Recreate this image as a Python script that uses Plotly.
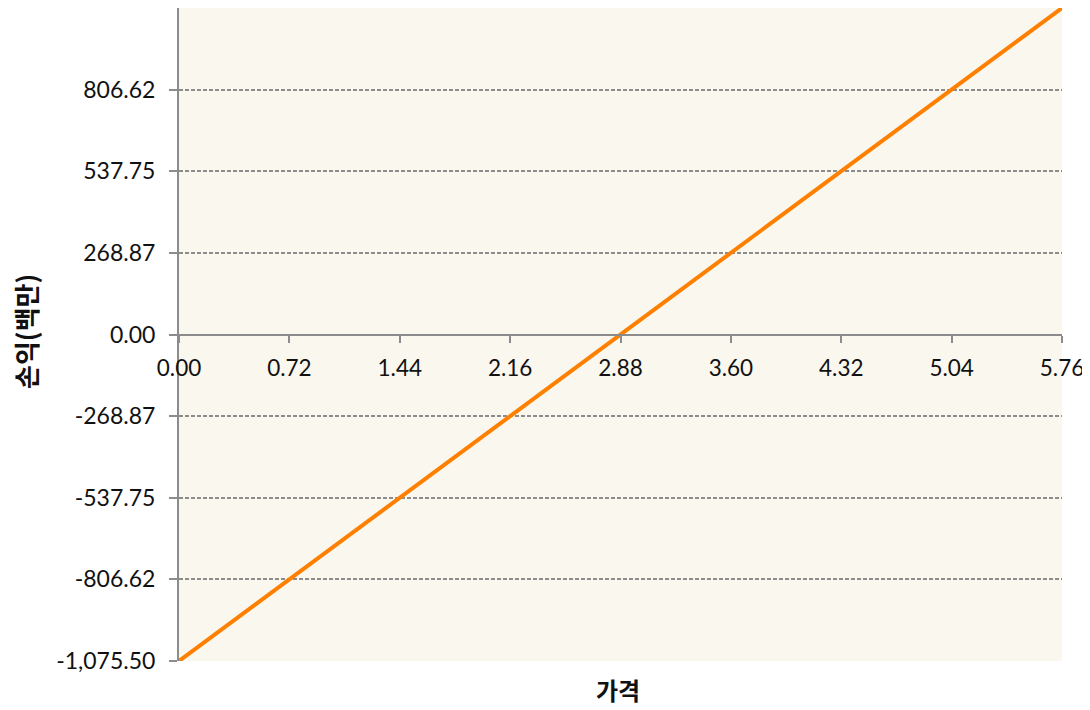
import plotly.graph_objects as go

# Data
price = [0.00, 0.72, 1.44, 2.16, 2.88, 3.60, 4.32, 5.04, 5.76]
profit = [-1075.50, -806.62, -537.75, -268.87, 0.00, 268.87, 537.75, 806.62, 1075.50]

x_tick_vals = [0.00, 0.72, 1.44, 2.16, 2.88, 3.60, 4.32, 5.04, 5.76]
x_tick_text = ["0.00", "0.72", "1.44", "2.16", "2.88", "3.60", "4.32", "5.04", "5.76"]
y_tick_vals = [-1075.50, -806.62, -537.75, -268.87, 0.00, 268.87, 537.75, 806.62]
y_tick_text = ["-1,075.50", "-806.62", "-537.75", "-268.87", "0.00", "268.87", "537.75", "806.62"]

x_title = "가격"
y_title = "손익(백만)"

num_font = dict(family="Lato, 'Open Sans', sans-serif", size=23, color="#111111")
kr_font = dict(family="'Noto Sans CJK KR', sans-serif", size=24, color="#111111")

# page offset compensation (body margin ~8px)
W, H = 1082, 702
L, R, T, B = 171, 28, 0, 49
pw = W - L - R
ph = H - T - B

fig = go.Figure()
fig.add_trace(go.Scatter(
    x=price, y=profit, mode="lines",
    line=dict(color="#FF8000", width=4),
    showlegend=False, hoverinfo="skip",
))

fig.update_layout(
    width=W, height=H,
    margin=dict(l=L, r=R, t=T, b=B),
    paper_bgcolor="white",
    plot_bgcolor="#FAF7EF",
    xaxis=dict(
        range=[0, 5.76],
        tickvals=x_tick_vals, ticktext=x_tick_text,
        anchor="free", position=0.5,
        showline=True, linecolor="#8C8C8C", linewidth=2,
        ticks="outside", ticklen=7, tickwidth=2, tickcolor="#8C8C8C",
        showgrid=False, zeroline=False,
        tickfont=dict(num_font, size=22.5),
        ticklabelstandoff=6,
        ticklabeloverflow="allow",
    ),
    yaxis=dict(
        range=[-1075.5, 1075.5],
        tickvals=y_tick_vals, ticktext=y_tick_text,
        showline=True, linecolor="#8C8C8C", linewidth=2,
        ticks="outside", ticklen=8, tickwidth=1.5, tickcolor="#8C8C8C",
        showgrid=True, gridcolor="#8C8C8C", gridwidth=1.5, griddash="4px,2px",
        zeroline=False,
        tickfont=num_font,
        ticklabelstandoff=9,
    ),
    annotations=[
        dict(text=f"<b>{x_title}</b>", xref="paper", yref="paper",
             x=(617 - 178) / pw, y=-(688 - 660) / ph,
             xanchor="center", yanchor="middle",
             showarrow=False, font=kr_font),
        dict(text=f"<b>{y_title}</b>", textangle=-90, xref="paper", yref="paper",
             x=-(178 - 24) / pw, y=(660 - 331) / ph,
             xanchor="center", yanchor="middle",
             showarrow=False, font=dict(kr_font, size=26)),
    ],
)

fig.write_html("out.html")
